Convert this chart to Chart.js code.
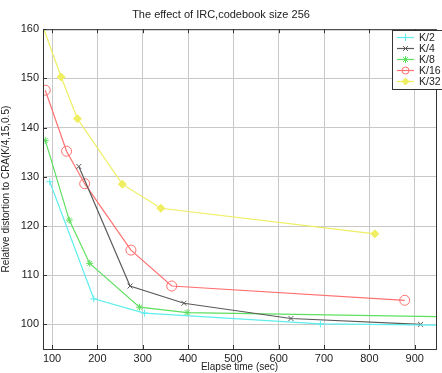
<!DOCTYPE html>
<html><head><meta charset="utf-8">
<script src="https://cdn.jsdelivr.net/npm/chart.js@4/dist/chart.umd.min.js"></script>
<style>html,body{margin:0;padding:0;background:#fff;}#c{display:block;}</style>
</head><body>
<canvas id="c" width="442" height="373"></canvas>
<script>
const seriesNames = ['K/2','K/4','K/8','K/16','K/32'];
const k2x = [95, 192, 304, 692, 1000];
const k2y = [129.0, 105.2, 102.3, 100.1, 99.8];
const k4x = [159, 272, 391, 627, 913];
const k4y = [132.1, 107.8, 104.3, 101.2, 100.0];
const k8x = [85, 138, 183, 293, 398, 1000];
const k8y = [137.4, 121.2, 112.4, 103.5, 102.4, 101.5];
const k16x = [85, 132, 172, 274, 364, 878];
const k16y = [147.6, 135.2, 128.6, 115.1, 107.8, 104.9];
const k32x = [80, 120, 156, 255, 340, 812];
const k32y = [160.5, 150.3, 141.8, 128.5, 123.6, 118.4];
const xTicks = [100,200,300,400,500,600,700,800,900];
const yTicks = [100,110,120,130,140,150,160];

const colors = ['#5eeeee','#5a5a5a','#5fdf5f','#ff7070','#eeee60'];
const styles = ['cross','crossRot','star','circle','rectRot'];
const radii = [3.5,3.5,3.5,5,4];
const xs = [k2x,k4x,k8x,k16x,k32x];
const ys = [k2y,k4y,k8y,k16y,k32y];

const datasets = seriesNames.map((n,i)=>({
  label:n,
  data: xs[i].map((x,j)=>({x:x,y:ys[i][j]})),
  borderColor: colors[i],
  backgroundColor: (styles[i]==='rectRot') ? colors[i] : 'rgba(0,0,0,0)',
  pointBorderColor: colors[i],
  pointBackgroundColor: (styles[i]==='rectRot') ? colors[i] : 'rgba(0,0,0,0)',
  pointStyle: styles[i],
  pointRadius: radii[i],
  pointBorderWidth: 1,
  borderWidth: 1.2,
  showLine: true,
  tension: 0
}));

const FONT = 'Liberation Sans, Arial, sans-serif';

const framePlugin = {
  id:'frame',
  afterDatasetsDraw(chart){
    const ctx = chart.ctx, a = chart.chartArea;
    ctx.save();
    ctx.strokeStyle = '#333'; ctx.lineWidth = 1;
    ctx.strokeRect(a.left+0.5, a.top+0.5, a.right-a.left, a.bottom-a.top);
    const sx = chart.scales.x, sy = chart.scales.y;
    ctx.beginPath();
    xTicks.forEach(t=>{
      const px = Math.round(sx.getPixelForValue(t))+0.5;
      ctx.moveTo(px,a.bottom); ctx.lineTo(px,a.bottom-4);
      ctx.moveTo(px,a.top); ctx.lineTo(px,a.top+4);
    });
    yTicks.forEach(t=>{
      const py = Math.round(sy.getPixelForValue(t))+0.5;
      ctx.moveTo(a.left,py); ctx.lineTo(a.left+4,py);
    });
    ctx.stroke();
    // legend box inside the axes
    const lx = 392, ly = 30, lw = 60, lh = 59;
    ctx.fillStyle = '#fff';
    ctx.fillRect(lx, ly, lw, lh);
    ctx.strokeStyle = '#333';
    ctx.strokeRect(lx+0.5, ly+0.5, lw, lh);
    ctx.font = '10.5px ' + FONT;
    ctx.textBaseline = 'middle';
    ctx.textAlign = 'left';
    chart.data.datasets.forEach((d,i)=>{
      const y = ly + 7.5 + i*11;
      ctx.strokeStyle = d.borderColor; ctx.lineWidth = 1.2;
      ctx.beginPath(); ctx.moveTo(397,y); ctx.lineTo(414,y); ctx.stroke();
      ctx.strokeStyle = d.borderColor;
      ctx.fillStyle = d.pointBackgroundColor;
      ctx.lineWidth = 1;
      Chart.helpers.drawPoint(ctx, {pointStyle:d.pointStyle, radius:Math.min(d.pointRadius,3.5), borderWidth:1, rotation:0}, 405.5, y);
      ctx.fillStyle = '#222';
      ctx.fillText(d.label, 419, y+0.5);
    });
    ctx.restore();
  }
};

new Chart(document.getElementById('c'), {
  type:'scatter',
  data:{datasets:datasets},
  plugins:[framePlugin],
  options:{
    responsive:false,
    animation:false,
    layout:{padding:{left:0,right:0,top:0,bottom:0}},
    plugins:{
      legend:{display:false},
      tooltip:{enabled:false},
      title:{display:true,text:'The effect of IRC,codebook size 256',
        color:'#222',font:{family:FONT,size:11,weight:'normal'},padding:{top:8,bottom:8}}
    },
    scales:{
      x:{type:'linear',min:80,max:947,
        afterBuildTicks(s){s.ticks = xTicks.map(v=>({value:v}));},
        afterFit(s){s.height = 24;},
        grid:{color:'#c8c8c8',borderDash:[1,2],drawTicks:false},
        border:{display:false},
        ticks:{color:'#222',font:{family:FONT,size:11},padding:3,maxRotation:0,autoSkip:false},
        title:{display:true,text:'Elapse time (sec)',color:'#222',font:{family:FONT,size:10},padding:{top:0,bottom:0}}
      },
      y:{type:'linear',min:95,max:160,
        afterBuildTicks(s){s.ticks = yTicks.map(v=>({value:v}));},
        afterFit(s){s.width = 43;},
        grid:{color:'#c8c8c8',borderDash:[1,2],drawTicks:false},
        border:{display:false},
        ticks:{color:'#222',font:{family:FONT,size:11},padding:4,autoSkip:false},
        title:{display:true,text:'Relative distortion to CRA(K/4,15,0.5)',color:'#222',font:{family:FONT,size:10},padding:{top:0,bottom:0}}
      }
    }
  }
});
</script>
</body></html>
